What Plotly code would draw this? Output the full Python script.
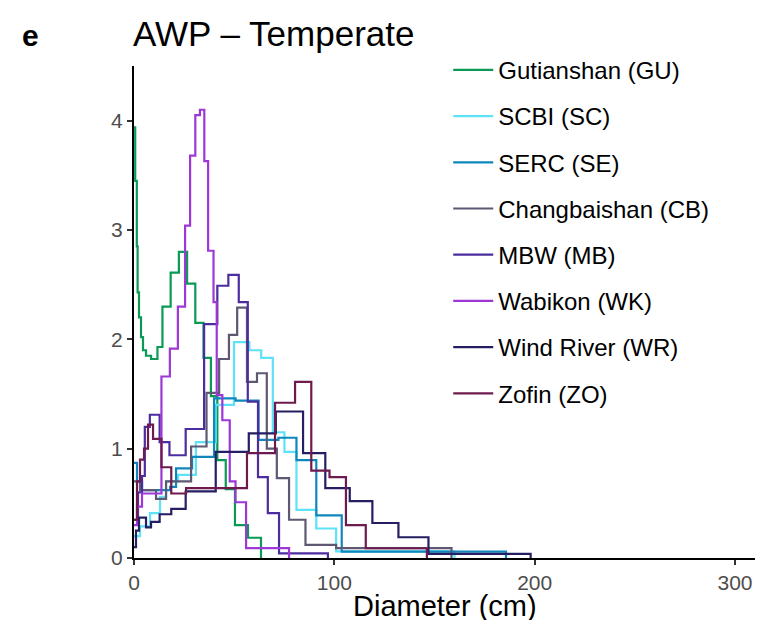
import plotly.graph_objects as go

# ---- data (diameter bin edges in cm, density values) ----
names = ["Gutianshan (GU)", "SCBI (SC)", "SERC (SE)", "Changbaishan (CB)",
         "MBW (MB)", "Wabikon (WK)", "Wind River (WR)", "Zofin (ZO)"]
colors = ["#0a9a55", "#5de2f8", "#0f87bd", "#5f5873",
          "#4b2d9f", "#9d38d6", "#241e63", "#6e1a4e"]

gu_edges = [0, 0.6, 1.4, 1.8, 2.5, 3.5, 4.5, 6, 8.5, 11.7, 14.2, 18.3, 22.4, 26.5, 30.6,
            34.7, 38.4, 41.6, 45.8, 50.4, 56.9, 63.4]
gu_vals = [3.94, 3.45, 2.85, 2.43, 2.2, 2.02, 1.9, 1.85, 1.82, 1.93, 2.30, 2.61, 2.80, 2.51,
           2.15, 1.83, 1.48, 0.895, 0.63, 0.30, 0.185]

sc_edges = [0, 3, 8, 13, 16, 22, 30.9, 40.8, 49.9, 57.6, 63.5, 69.3, 75.1, 81.1, 91.0, 100.9, 160]
sc_vals = [0.2, 0.29, 0.41, 0.56, 0.70, 0.76, 1.06, 1.40, 1.975, 1.90, 1.83, 1.15, 0.97, 0.44,
           0.27, 0.06]

se_edges = [0, 1.5, 4, 18, 21, 29, 40, 50.7, 62.2, 72.1, 81.1, 91.0, 103.7, 185.7]
se_vals = [0.87, 0.7, 0.62, 0.65, 0.82, 0.925, 1.46, 1.44, 1.08, 1.10, 0.895, 0.39, 0.058]

cb_edges = [0, 3, 11, 16, 28.5, 36.2, 42.5, 47.4, 51.5, 56.4, 61.4, 66.3, 71.3, 77.4, 85.6,
            100.9, 158.5]
cb_vals = [0.7, 0.62, 0.54, 0.70, 1.02, 1.51, 1.82, 2.04, 2.29, 1.61, 1.69, 1.0, 0.73, 0.35,
           0.12, 0.09]

mb_edges = [0, 2, 4, 5.4, 7.9, 12.8, 17.7, 25.8, 35.0, 41.6, 47.1, 52.3, 56.8, 61.9, 66.8,
            72.4, 96.8]
mb_vals = [0.35, 0.6, 0.75, 1.2, 1.31, 1.06, 0.94, 1.18, 2.14, 2.49, 2.59, 2.34, 1.43, 0.74,
           0.41, 0.043]

wk_edges = [0, 1.5, 4, 13.7, 17.9, 21.9, 25.5, 28.0, 30.6, 32.9, 35.1, 37.0, 39.7, 41.3, 44.1,
            47.8, 50.7, 55.95, 77.4]
wk_vals = [0.3, 0.47, 0.59, 1.66, 1.915, 2.30, 3.04, 3.68, 4.05, 4.10, 3.63, 2.81, 2.34, 1.49,
           1.26, 0.70, 0.51, 0.09]

wr_edges = [0, 1, 2.5, 6, 8.5, 12.8, 18.6, 25.8, 40.8, 57.3, 70.8, 84.4, 95.5, 107.7, 119.0,
            132.0, 147.0, 198.0]
wr_vals = [0.1, 0.25, 0.37, 0.28, 0.33, 0.40, 0.45, 0.61, 0.97, 1.14, 1.34, 0.96, 0.64, 0.52,
           0.32, 0.19, 0.037]

zo_edges = [0, 1.5, 3, 5, 7, 9.5, 13.7, 18.6, 26, 56.4, 70.4, 80.4, 88.5, 97.6, 105.8, 115.7,
            146.2]
zo_vals = [0.35, 0.7, 0.9, 1.0, 1.22, 1.09, 0.83, 0.59, 0.64, 0.96, 1.42, 1.61, 0.80, 0.74,
           0.30, 0.089]

x_ticks = [0, 100, 200, 300]
y_ticks = [0, 1, 2, 3, 4]

series = [(gu_edges, gu_vals), (sc_edges, sc_vals), (se_edges, se_vals), (cb_edges, cb_vals),
          (mb_edges, mb_vals), (wk_edges, wk_vals), (wr_edges, wr_vals), (zo_edges, zo_vals)]

FONT = "Liberation Sans, Arial, sans-serif"

fig = go.Figure()
for i, ((edges, vals), name, col) in enumerate(zip(series, names, colors)):
    fig.add_trace(go.Scatter(
        x=edges, y=list(vals) + [0], mode="lines", line_shape="hv",
        line=dict(color=col, width=2.2), name=name, legendgroup=f"g{i}",
    ))

# page body has an 8px margin, so the figure is offset by 8px and kept small
# enough that the page never scrolls
fig.update_layout(
    width=747, height=612,
    margin=dict(l=126, r=0, t=58, b=62, autoexpand=False),
    paper_bgcolor="white", plot_bgcolor="white",
    font=dict(family=FONT, color="black"),
    showlegend=True,
    legend=dict(x=0.506, y=1.037, xanchor="left", yanchor="top",
                font=dict(size=24, color="black"), tracegroupgap=12,
                itemwidth=40, bgcolor="rgba(0,0,0,0)", maxheight=600),
    xaxis=dict(range=[0, 310], tickvals=x_ticks, showgrid=False, zeroline=False,
               automargin=False,
               showline=True, linecolor="black", linewidth=2,
               ticks="outside", ticklen=5, tickcolor="#333333", tickwidth=1.5,
               tickfont=dict(size=21, color="#4d4d4d")),
    yaxis=dict(range=[0, 4.5], tickvals=y_ticks, showgrid=False, zeroline=False,
               automargin=False,
               showline=True, linecolor="black", linewidth=2,
               ticks="outside", ticklen=5, tickcolor="#333333", tickwidth=1.5,
               tickfont=dict(size=21, color="#4d4d4d")),
    annotations=[
        dict(text="AWP – Temperate", x=0, y=1.067, xref="paper", yref="paper",
             xanchor="left", yanchor="middle", showarrow=False, xshift=-3,
             font=dict(size=35, color="black")),
        dict(text="<b>e</b>", x=-0.166, y=1.063, xref="paper", yref="paper",
             xanchor="center", yanchor="middle", showarrow=False,
             font=dict(size=30, color="black")),
        dict(text="Diameter (cm)", x=0.5, y=-0.098, xref="paper", yref="paper",
             xanchor="center", yanchor="middle", showarrow=False,
             font=dict(size=29, color="black")),
    ],
)

fig.write_html("out.html")
